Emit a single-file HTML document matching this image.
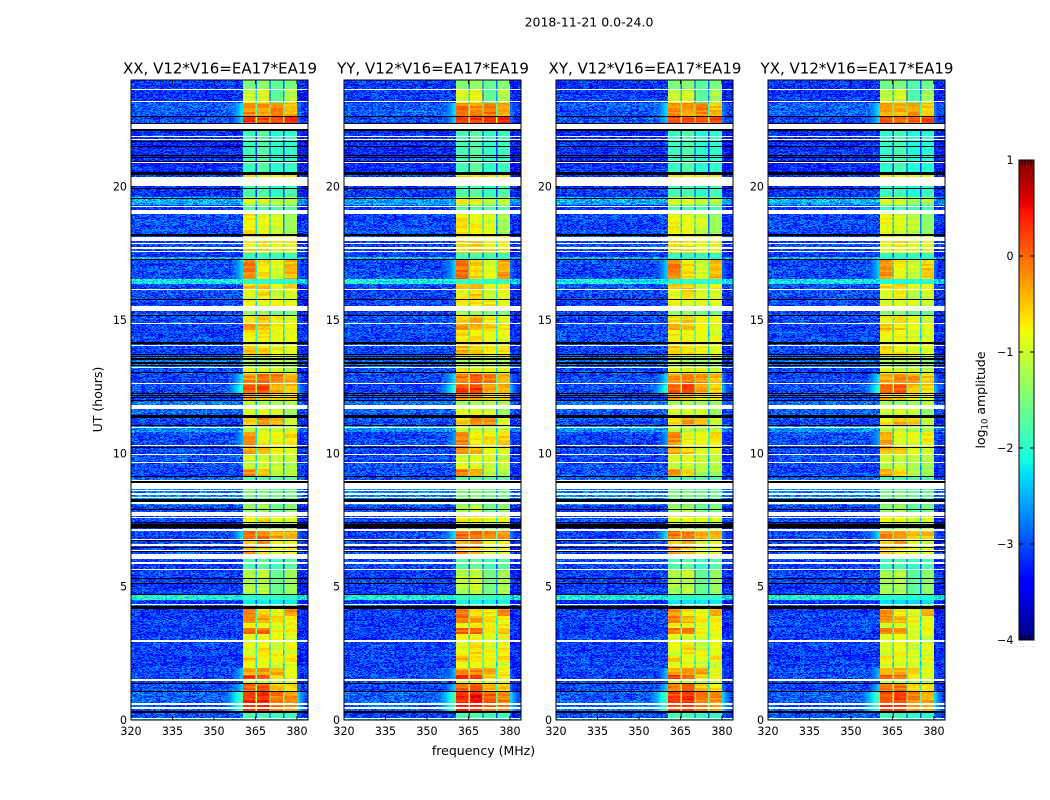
<!DOCTYPE html>
<html lang="en">
<head>
<meta charset="utf-8">
<title>2018-11-21 dynamic spectra</title>
<style>
html,body{margin:0;padding:0;background:#fff;}
#figure{position:relative;width:1050px;height:800px;overflow:hidden;background:#fff;font-family:"DejaVu Sans",sans-serif;}
canvas{position:absolute;display:block;image-rendering:pixelated;}
svg{position:absolute;left:0;top:0;}
text{font-family:"DejaVu Sans",sans-serif;fill:#000;}
</style>
</head>
<body>
<div id="figure"></div>
<script>
// ---- Chart data ----
const panelTitles = ['XX, V12*V16=EA17*EA19','YY, V12*V16=EA17*EA19','XY, V12*V16=EA17*EA19','YX, V12*V16=EA17*EA19'];
const panelGains = [0,0.05,-0.02,-0.08];
const freqTicks = [320,335,350,365,380];
const utTicks = [0,5,10,15,20];
const colorbarTicks = [-4,-3,-2,-1,0,1];
const segmentEdgesMHz = [360.5,365.2,370.2,375.2,380];

// Start of each observing band (UT hours); each band runs to the next start.
const bandStartUT = [
0,.075,.26,1.07,1.39,1.5,1.69,1.95,2.17,2.4,
2.62,2.92,3.22,3.45,3.64,3.9,4.16,4.35,4.5,4.69,
5.62,6.04,6.22,6.6,6.8,7.09,7.42,7.65,8.06,8.66,
9.15,9.41,9.68,9.94,10.2,10.8,11.06,11.33,11.66,11.96,
12.26,12.56,12.98,13.24,13.62,14.03,14.63,14.85,15.15,15.34,
15.75,16.16,16.35,16.52,17.25,17.36,17.51,18.15,18.97,19.31,
19.61,20.36,20.55,22.09,22.35,22.61,23.14,23.66];
// log10 amplitude outside the passband
const backgroundLog = [
-2.1,-3,-2.9,-3,-3,-3,-3,-3.05,-3.05,-3.05,
-3.05,-3.05,-3.05,-3.05,-3.05,-3.05,-3,-3.1,-2.1,-3.05,
-3.05,-3,-3,-3,-3,-3.3,-3,-3.05,-2.7,-2.9,
-3,-3,-3,-3,-3,-2.6,-3,-2.9,-2.8,-3,
-3,-3,-3,-2.8,-3,-3,-3,-3,-3,-3,
-3,-3,-2.1,-3,-2.4,-3.1,-3,-3,-3.1,-2.5,
-3.1,-3.1,-3.15,-3.2,-3,-2.9,-3.1,-3.1];
// log10 amplitude of the low-frequency shoulder next to the passband (-9 = none)
const shoulderLog = [
-9,-9,-1.7,-2.3,-9,-2.4,-2.4,-9,-9,-9,
-9,-9,-9,-9,-9,-9,-9,-9,-9,-9,
-9,-9,-9,-9,-2.2,-9,-9,-9,-9,-9,
-9,-9,-9,-9,-2.5,-9,-9,-9,-9,-9,
-1.9,-2.2,-9,-9,-9,-9,-9,-9,-9,-9,
-9,-9,-9,-2.3,-9,-9,-9,-9,-9,-9,
-9,-9,-9,-9,-2.3,-2.2,-9,-9];
// log10 amplitude in the four passband segments
const segment1Log = [
-2,-1.8,-.1,-.3,-1,-.1,-.5,-.9,-.6,-.9,
-.9,-.85,-.3,-.8,-.35,-.4,-1.6,-2.2,-1.95,-1.2,
-1.8,-1.2,-.5,-.6,-.3,-1.2,-.8,-1.3,-1.5,-1.7,
-.4,-1,-1,-.5,-.4,-1.1,-.7,-.9,-1.2,-.5,
-.2,-.4,-.8,-1.2,-.6,-.75,-.5,-.7,-1.3,-.8,
-.9,-.6,-1.95,-.35,-1.9,-1.9,-.7,-.75,-1.8,-.9,
-1.85,-.75,-1.9,-1.2,-.1,-.4,-1,-1.5];
const segment2Log = [
-2,-1.8,-.05,-.2,-1,-.2,-.45,-.9,-.8,-.7,
-.7,-.9,-.3,-.8,-.5,-.7,-1.6,-2.2,-1.95,-1.1,
-1.7,-1.2,-.6,-.45,-.35,-1.2,-.7,-1.2,-1.5,-1.7,
-.6,-1,-.9,-.6,-.8,-1.1,-.45,-.9,-1.2,-.5,
-.15,-.3,-.9,-1.2,-.7,-.75,-.6,-.6,-1.3,-.8,
-.7,-.6,-1.95,-.7,-1.9,-1.9,-.65,-.85,-1.8,-.9,
-1.8,-.75,-1.75,-1.2,-.15,-.45,-.9,-1.4];
const segment3Log = [
-2,-1.9,-.3,-.6,-1.1,-.7,-.5,-1,-.9,-.8,
-1,-.9,-.8,-.9,-.7,-.8,-1.6,-2.2,-1.95,-1.6,
-1.9,-1.2,-.9,-.8,-.5,-1.2,-.9,-1.6,-1.6,-1.7,
-1.2,-1.1,-1,-.8,-.8,-1.1,-.5,-1,-1.2,-.7,
-.5,-.4,-.9,-1.2,-.8,-.85,-.7,-.8,-1.5,-.8,
-1,-.9,-1.95,-.95,-1.9,-1.9,-.8,-1,-1.8,-1.1,
-2,-.75,-2,-1.2,-.15,-.35,-1.7,-1.7];
const segment4Log = [
-2,-1.9,-.4,-.7,-1.1,-.8,-.8,-1,-.7,-.9,
-.8,-.9,-.7,-.8,-.8,-.45,-1.6,-2.2,-1.95,-1.3,
-1.75,-1.2,-.8,-.9,-.5,-1.2,-.9,-1.4,-1.6,-1.7,
-1.2,-1.2,-1.1,-.9,-.7,-1.1,-1,-1.3,-1.2,-.7,
-.6,-.55,-1.1,-1.2,-.8,-.9,-.8,-.9,-1.5,-.9,
-.9,-.7,-1.95,-.55,-1.9,-1.9,-.8,-1.3,-1.8,-1.1,
-1.85,-.75,-1.95,-1.2,-.1,-.55,-1.2,-1.5];
// Flagged (white) intervals, UT hours
const whiteGapStart = [.06,.42,.58,1.46,2.94,4.3,5.62,5.85,6.04,6.35,6.54,6.77,7.09,7.6,7.65,8.1,8.35,8.44,8.6,8.66,8.98,9.66,9.94,10.3,10.94,11.66,12.59,13.2,14.05,14.85,15.34,15.51,16.15,17.54,17.66,17.84,17.96,18.97,19.26,20.03,20.89,21.75,21.87,22.16,23.17,23.64];
const whiteGapEnd   = [.09,.47,.62,1.52,3,4.35,5.66,5.92,6.24,6.39,6.6,6.8,7.16,7.63,7.81,8.18,8.38,8.51,8.63,8.87,9,9.69,9.97,10.33,10.97,11.81,12.62,13.23,14.08,14.88,15.49,15.54,16.18,17.57,17.74,17.87,18.11,19.13,19.29,20.36,20.92,21.78,21.9,22.35,23.2,23.67];
// Zero-valued (black) intervals, UT hours
const blackGapStart = [.25,1.07,1.38,4.18,4.69,5.13,5.32,6.3,6.44,6.72,7.2,7.42,7.9,8.18,8.89,9.11,10.22,11.05,11.34,11.99,12.11,12.18,12.26,13.01,13.27,13.34,13.41,13.49,13.56,13.63,13.71,14.1,15.18,15.76,17.24,18.15,19.55,19.94,20.44,20.96,21.08,21.18,21.48,21.67,22.09,22.38,22.64,23.2];
const blackGapEnd   = [.35,1.09,1.4,4.28,4.73,5.15,5.34,6.33,6.5,6.74,7.36,7.44,7.92,8.29,8.96,9.15,10.25,11.08,11.42,12.01,12.13,12.2,12.28,13.05,13.3,13.37,13.44,13.52,13.59,13.66,13.74,14.18,15.2,15.78,17.27,18.22,19.58,19.96,20.55,20.98,21.1,21.2,21.51,21.7,22.16,22.4,22.66,23.22];
// Small fixed texture table standing in for the pixel-level speckle
const speckle = [.22,-.18,.05,-.27,.31,-.08,.14,-.21,.02,.26,-.13,-.3,.18,.07,-.24,.29,-.04,.11,-.17,.24,-.28,.09,.33,-.11,-.02,.17,-.25,.2,-.15,.04,.28,-.22,.12,-.06,.36,-.19,-.09,.15,-.29,.23,.01,-.14,.27,-.26,.08,.19,-.03];

// ---- Geometry and axes ----
const panelLeft = [131,344,556,768];
const PANEL_W = 177, PANEL_TOP = 80, PANEL_H = 640;
const F_MIN = 320, F_MAX = 384, UT_MAX = 24;
const N_CHAN = 128;
const BACKGROUND_SHIFT = -0.06, PASSBAND_CONTRAST = 0.5;
const xOf = f => (f - F_MIN) / (F_MAX - F_MIN) * PANEL_W;
const yOf = ut => PANEL_H - ut / UT_MAX * PANEL_H;
const CB_X = 1019, CB_Y = 160, CB_W = 15, CB_H = 480;
const cbY = v => CB_Y + (1 - v) / 5 * CB_H;

function ramp(t, pts){
  for(let i = 1; i < pts.length; i++){
    if(t <= pts[i][0]){
      const a = pts[i-1], b = pts[i];
      return a[1] + (b[1]-a[1]) * (t-a[0]) / (b[0]-a[0]);
    }
  }
  return pts[pts.length-1][1];
}
const R_PTS = [[0,0],[.35,0],[.66,1],[.89,1],[1,.5]];
const G_PTS = [[0,0],[.125,0],[.375,1],[.64,1],[.91,0],[1,0]];
const B_PTS = [[0,.5],[.11,1],[.34,1],[.65,0],[1,0]];
function jet(v){
  const t = Math.max(0, Math.min(1, (v + 4) / 5));
  return [ramp(t,R_PTS)*255, ramp(t,G_PTS)*255, ramp(t,B_PTS)*255];
}
function bandIndex(ut){
  let k = 0;
  while(k + 1 < bandStartUT.length && bandStartUT[k+1] <= ut) k++;
  return k;
}
function cellValue(f, k, c, r, p){
  const bg = backgroundLog[k] + BACKGROUND_SHIFT;
  const sh = shoulderLog[k];
  const rowTex = speckle[(r * 17 + p * 5) % speckle.length];
  const cellTex = speckle[(c * 13 + r * 29 + (c * r) % 17 + p * 11) % speckle.length];
  const edges = segmentEdgesMHz;
  if(f >= edges[0] && f < edges[4]){
    let s = 0;
    while(s < 3 && f >= edges[s+1]) s++;
    let seg = [segment1Log,segment2Log,segment3Log,segment4Log][s][k] + panelGains[p];
    seg += Math.max(0, seg + 0.8) * PASSBAND_CONTRAST;
    const inGap = s > 0 && f < edges[s] + 0.5;
    const base = inGap ? Math.max(bg, seg - 1.4) : seg;
    const stripe = seg > -1.3 ? speckle[((r >> 1) * 19 + s * 7 + p * 3) % speckle.length] * 0.5 : 0;
    return base + cellTex * 0.3 + stripe;
  }
  let v = bg + cellTex * 1.4 + rowTex * 0.3;
  if(f >= edges[4]) v -= 0.15;
  if(f < edges[0] && f > 350 && sh > -9){
    const s = sh - (edges[0] - f) * 0.2;
    if(s > v) v = s + cellTex * 0.2;
  }
  if(f >= edges[4] && sh > -9){
    const s = sh - 0.5 - (f - edges[4]) * 0.3;
    if(s > v) v = s;
  }
  return v;
}
function paintPanel(canvas, p){
  const ctx = canvas.getContext('2d');
  const img = ctx.createImageData(N_CHAN, PANEL_H);
  for(let r = 0; r < PANEL_H; r++){
    const ut = (PANEL_H - r - 0.5) / PANEL_H * UT_MAX;
    const k = bandIndex(ut);
    for(let c = 0; c < N_CHAN; c++){
      const f = F_MIN + (c + 0.5) / N_CHAN * (F_MAX - F_MIN);
      const rgb = jet(cellValue(f, k, c, r, p));
      const o = (r * N_CHAN + c) * 4;
      img.data[o] = rgb[0]; img.data[o+1] = rgb[1]; img.data[o+2] = rgb[2]; img.data[o+3] = 255;
    }
  }
  ctx.putImageData(img, 0, 0);
  function gap(a, b, color){
    const y0 = Math.round(yOf(b));
    const h = Math.max(1, Math.round(yOf(a)) - y0);
    ctx.fillStyle = color;
    ctx.fillRect(0, y0, N_CHAN, h);
  }
  blackGapStart.forEach((a, i) => gap(a, blackGapEnd[i], '#000'));
  whiteGapStart.forEach((a, i) => gap(a, whiteGapEnd[i], '#fff'));
}

// ---- Build the page ----
const figure = document.getElementById('figure');
const NS = 'http://www.w3.org/2000/svg';
function svgEl(tag, attrs, parent){
  const el = document.createElementNS(NS, tag);
  for(const k in attrs) el.setAttribute(k, attrs[k]);
  parent.appendChild(el);
  return el;
}
function tickLine(x1, y1, x2, y2, parent){
  return svgEl('line', {x1:x1, y1:y1, x2:x2, y2:y2, stroke:'#000', 'stroke-width':1}, parent);
}

panelTitles.forEach((title, p) => {
  const cv = document.createElement('canvas');
  cv.width = N_CHAN; cv.height = PANEL_H;
  cv.style.left = panelLeft[p] + 'px';
  cv.style.top = PANEL_TOP + 'px';
  cv.style.width = PANEL_W + 'px';
  cv.style.height = PANEL_H + 'px';
  
  
  figure.appendChild(cv);
  paintPanel(cv, p);
});

const cbCanvas = document.createElement('canvas');
cbCanvas.width = 1; cbCanvas.height = CB_H;
cbCanvas.style.left = CB_X + 'px';
cbCanvas.style.top = CB_Y + 'px';
cbCanvas.style.width = CB_W + 'px';
cbCanvas.style.height = CB_H + 'px';


figure.appendChild(cbCanvas);
(function(){
  const c = cbCanvas.getContext('2d');
  for(let r = 0; r < CB_H; r++){
    const rgb = jet(1 - (r + 0.5) / CB_H * 5);
    c.fillStyle = 'rgb(' + rgb.map(Math.round).join(',') + ')';
    c.fillRect(0, r, 1, 1);
  }
})();

const svg = document.createElementNS(NS, 'svg');
svg.setAttribute('width', 1050);
svg.setAttribute('height', 800);


figure.appendChild(svg);

const sup = svgEl('text', {x:589, y:26.5, 'text-anchor':'middle', 'font-size':12.5}, svg);
sup.textContent = '2018-11-21 0.0-24.0';



panelTitles.forEach((title, p) => {
  const L = panelLeft[p];
  const g = svgEl('g', {}, svg);
  
  

  const frame = svgEl('rect', {x:L, y:PANEL_TOP, width:PANEL_W, height:PANEL_H, fill:'none', stroke:'#000', 'stroke-width':1}, g);
  
  

  const t = svgEl('text', {x:L + PANEL_W/2 + 0.5, y:73.5, 'text-anchor':'middle', 'font-size':15}, g);
  t.textContent = title;
  
  

  freqTicks.forEach(f => {
    const x = L + xOf(f);
    const a = tickLine(x, PANEL_TOP + PANEL_H, x, PANEL_TOP + PANEL_H - 4, g);
    
    
    const b = tickLine(x, PANEL_TOP, x, PANEL_TOP + 4, g);
    
    
    const lab = svgEl('text', {x:x, y:735, 'text-anchor':'middle', 'font-size':11.1}, g);
    lab.textContent = String(f);
    
    
  });
  utTicks.forEach(u => {
    const y = PANEL_TOP + yOf(u);
    const a = tickLine(L, y, L + 4, y, g);
    
    
    const b = tickLine(L + PANEL_W - 4, y, L + PANEL_W, y, g);
    
    
    const lab = svgEl('text', {x:L - 4, y:y + 4, 'text-anchor':'end', 'font-size':11.1}, g);
    lab.textContent = String(u);
    
    
  });
});

const xTitle = svgEl('text', {x:483.5, y:755, 'text-anchor':'middle', 'font-size':12.5}, svg);
xTitle.textContent = 'frequency (MHz)';



const yTitle = svgEl('text', {x:0, y:0, 'text-anchor':'middle', 'font-size':12.5, transform:'translate(102,399.5) rotate(-90)'}, svg);
yTitle.textContent = 'UT (hours)';



// Colorbar
const cbFrame = svgEl('rect', {x:CB_X, y:CB_Y, width:CB_W, height:CB_H, fill:'none', stroke:'#000', 'stroke-width':1}, svg);


colorbarTicks.forEach(v => {
  const y = cbY(v);
  if(v > -4 && v < 1){
    const a = tickLine(CB_X, y, CB_X + 4, y, svg);
    
    
    const b = tickLine(CB_X + CB_W - 4, y, CB_X + CB_W, y, svg);
    
    
  }
  const lab = svgEl('text', {x:1013.5, y:y + 4, 'text-anchor':'end', 'font-size':11.1}, svg);
  lab.textContent = v < 0 ? '\u2212' + Math.abs(v) : String(v);
  
  
});
[3,6,9,12].forEach(dx => {
  const a = tickLine(CB_X + dx, CB_Y, CB_X + dx, CB_Y + 5, svg);
  
  
  const b = tickLine(CB_X + dx, CB_Y + CB_H - 5, CB_X + dx, CB_Y + CB_H, svg);
  
  
});
const dots = svgEl('text', {x:1026, y:647, 'text-anchor':'middle', 'font-size':5, 'letter-spacing':'1.5'}, svg);
dots.textContent = '......';
dots.setAttribute('fill', '#777');
dots.style.fill = '#777';



const cbTitle = svgEl('text', {x:0, y:0, 'text-anchor':'middle', 'font-size':12.5, transform:'translate(985,400) rotate(-90)'}, svg);


const t1 = svgEl('tspan', {}, cbTitle);
t1.textContent = 'log';
const t2 = svgEl('tspan', {'font-size':8.5, dy:2.5}, cbTitle);
t2.textContent = '10';
const t3 = svgEl('tspan', {dy:-2.5}, cbTitle);
t3.textContent = ' amplitude';
</script>
</body>
</html>
